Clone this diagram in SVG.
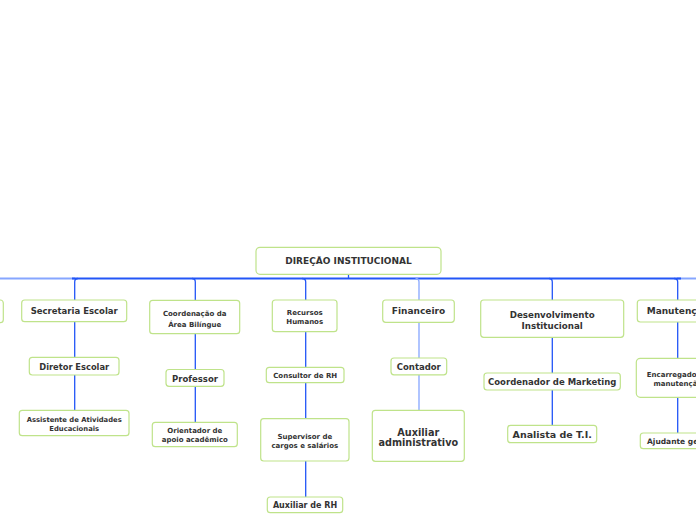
<svg xmlns="http://www.w3.org/2000/svg" width="696" height="520" viewBox="0 0 696 520">
<style>
.n rect{fill:#fff;stroke:#bfe38a;stroke-width:1.2}
.n text{font-family:"DejaVu Sans",Verdana,sans-serif;font-weight:bold;fill:#333;text-anchor:middle}
.c path{fill:none;stroke:#2356f7;stroke-width:1.3}
.c .l{stroke:#86a6ff}
.c .bar{stroke-width:2}
</style>
<rect width="696" height="520" fill="#fff"/>
<g class="c">
<path class="bar l" d="M0 278.5H75"/>
<path class="bar l" d="M677 278.5H696"/>
<path class="bar" d="M72 278.5H681"/>
<path d="M348.5 274V279"/>
<path d="M74.7 300V282Q74.7 278.5 78 278.5"/>
<path d="M195.3 300V282Q195.3 278.5 192 278.5"/>
<path d="M305.7 300V282Q305.7 278.5 302 278.5"/>
<path class="l" d="M419 300V282Q419 278.5 415.5 278.5"/>
<path d="M552.3 300V282Q552.3 278.5 549 278.5"/>
<path d="M677.7 300V282Q677.7 278.5 674 278.5"/>
<path d="M74.7 322V357M74.7 375V410"/>
<path d="M195.3 334V369M195.3 386V422"/>
<path d="M305.7 332V367M305.7 383V419M305.7 461V497"/>
<path class="l" d="M419 322V358M419 375V410"/>
<path d="M552.3 337V373M552.3 390V425"/>
<path d="M677.7 322V358M677.7 397V433"/>
</g>
<g id="root" class="n"><rect x="256" y="247.3" width="185" height="27" rx="4"/><text x="348.5" y="264.3" font-size="9">DIREÇÃO INSTITUCIONAL</text></g>
<g id="offleft" class="n"><rect x="-80" y="300" width="83.3" height="22.7" rx="3"/></g>
<g id="secretaria" class="n"><rect x="21.7" y="300" width="105" height="21.7" rx="3"/><text x="74.2" y="314" font-size="8.5">Secretaria Escolar</text></g>
<g id="bilingue" class="n"><rect x="149.7" y="300.3" width="90" height="33.4" rx="3"/><text x="194.7" y="315.5" font-size="7">Coordenação da</text><text x="194.7" y="326.5" font-size="7">Área Bilíngue</text></g>
<g id="rh" class="n"><rect x="272.3" y="300" width="64.7" height="31.7" rx="3"/><text x="304.7" y="315" font-size="7">Recursos</text><text x="304.7" y="324" font-size="7">Humanos</text></g>
<g id="financeiro" class="n"><rect x="382.7" y="300" width="71.6" height="22.3" rx="3"/><text x="418.5" y="314.3" font-size="9">Financeiro</text></g>
<g id="desenvolvimento" class="n"><rect x="480.7" y="300" width="143" height="37.3" rx="3"/><text x="552.2" y="317.5" font-size="8.7">Desenvolvimento</text><text x="552.2" y="328.5" font-size="8.7">Institucional</text></g>
<g id="manutencao" class="n"><rect x="637.3" y="300" width="81" height="22" rx="3"/><text x="677.8" y="314.3" font-size="9">Manutenção</text></g>
<g id="diretor" class="n"><rect x="29.3" y="357.3" width="89.7" height="17.7" rx="3"/><text x="74.2" y="369.5" font-size="8.3">Diretor Escolar</text></g>
<g id="assistente" class="n"><rect x="19.3" y="410.3" width="109.7" height="25.4" rx="3"/><text x="74.2" y="421.8" font-size="6.8">Assistente de Atividades</text><text x="74.2" y="430.8" font-size="6.8">Educacionais</text></g>
<g id="professor" class="n"><rect x="166" y="369.5" width="58" height="16.8" rx="3"/><text x="195" y="381.5" font-size="8.5">Professor</text></g>
<g id="orientador" class="n"><rect x="152.3" y="422.3" width="85" height="24.4" rx="3"/><text x="194.8" y="432.8" font-size="7">Orientador de</text><text x="194.8" y="441.8" font-size="7">apoio acadêmico</text></g>
<g id="consultor" class="n"><rect x="266.3" y="367.3" width="77.7" height="15.4" rx="3"/><text x="305.2" y="377.6" font-size="7">Consultor de RH</text></g>
<g id="supervisor" class="n"><rect x="260.7" y="418.7" width="88.3" height="42.3" rx="3"/><text x="304.8" y="438.8" font-size="7">Supervisor de</text><text x="304.8" y="447.8" font-size="7">cargos e salários</text></g>
<g id="auxrh" class="n"><rect x="267.3" y="497" width="75.4" height="15.7" rx="3"/><text x="305" y="507.8" font-size="8">Auxiliar de RH</text></g>
<g id="contador" class="n"><rect x="391" y="358" width="55.7" height="16.8" rx="3"/><text x="418.8" y="369.8" font-size="8.5">Contador</text></g>
<g id="auxadm" class="n"><rect x="372.3" y="410.3" width="92" height="51" rx="3"/><text x="418.3" y="435.5" font-size="9.7">Auxiliar</text><text x="418.3" y="446.2" font-size="9.7">administrativo</text></g>
<g id="marketing" class="n"><rect x="484" y="373" width="136.3" height="17" rx="3"/><text x="552.2" y="384.8" font-size="8.5">Coordenador de Marketing</text></g>
<g id="analista" class="n"><rect x="507.7" y="425.3" width="89" height="17.4" rx="3"/><text x="552.2" y="438" font-size="9.5">Analista de T.I.</text></g>
<g id="encarregado" class="n"><rect x="636.3" y="358.3" width="83" height="39" rx="4"/><text x="677.8" y="377.2" font-size="7">Encarregado de</text><text x="677.8" y="386.2" font-size="7">manutenção</text></g>
<g id="ajudante" class="n"><rect x="640.3" y="433" width="76" height="15.7" rx="3"/><text x="678.3" y="443.6" font-size="7.5">Ajudante geral</text></g>
</svg>
